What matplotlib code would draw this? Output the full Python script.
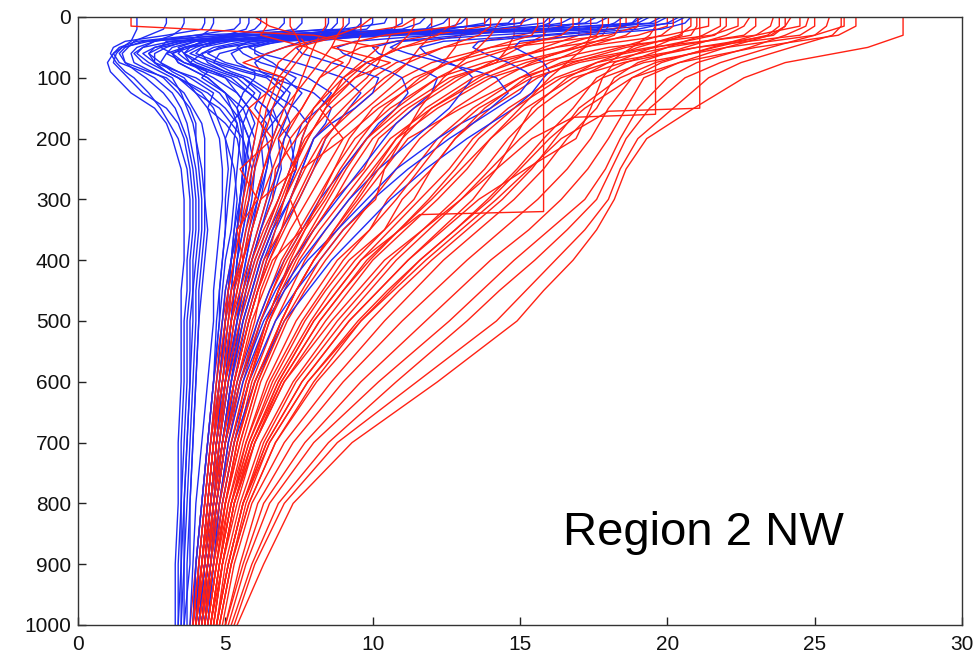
import matplotlib
matplotlib.use("Agg")
import matplotlib.pyplot as plt

plt.rcParams['font.family'] = ['Liberation Sans', 'DejaVu Sans']

# depth levels (m)
red_depths = [0, 15, 30, 50, 75, 100, 150, 200, 250, 300, 350, 400, 450, 500, 600, 700, 800, 900, 1000]
blue_depths = [0, 10, 20, 30, 40, 50, 60, 75, 90, 100, 125, 150, 175, 200, 250, 300, 350, 400, 450,
               500, 600, 700, 800, 900, 1000]

red_profiles = [
    [28.0, 28.0, 28.0, 26.8, 24.0, 22.6, 20.9, 19.3, 18.6, 18.2, 17.6, 16.8, 15.8, 14.9, 12.2, 9.3, 7.3, 6.3, 5.4],
    [25.9, 25.9, 25.6, 24.2, 22.5, 21.4, 20.2, 19.0, 18.4, 18.0, 17.2, 16.2, 15.2, 14.2, 11.5, 8.8, 7.0, 6.0, 5.3],
    [25.5, 25.4, 25.0, 23.5, 21.8, 20.6, 19.4, 18.6, 18.1, 17.6, 16.6, 15.5, 14.3, 13.2, 10.8, 8.5, 6.8, 5.9, 5.2],
    [24.8, 24.7, 24.0, 22.8, 21.0, 20.0, 19.0, 18.4, 17.9, 17.2, 16.0, 14.8, 13.7, 12.6, 10.2, 8.0, 6.5, 5.7, 5.1],
    [24.2, 24.0, 23.5, 22.0, 20.4, 19.2, 18.6, 18.0, 17.3, 16.4, 15.3, 14.0, 12.9, 11.8, 9.6, 7.7, 6.3, 5.6, 5.0],
    [23.6, 23.5, 23.0, 21.5, 19.8, 18.8, 18.0, 17.4, 16.6, 15.6, 14.4, 13.2, 12.1, 11.0, 9.0, 7.3, 6.1, 5.5, 5.0],
    [22.8, 22.6, 22.0, 20.6, 19.0, 18.2, 17.6, 16.6, 15.8, 14.8, 13.6, 12.4, 11.4, 10.4, 8.6, 7.0, 5.9, 5.3, 4.9],
    [21.8, 21.8, 21.2, 20.0, 18.6, 17.6, 16.8, 15.8, 14.9, 13.9, 12.8, 11.6, 10.6, 9.6, 8.0, 6.7, 5.8, 5.2, 4.8],
    [20.5, 20.5, 20.5, 19.5, 18.2, 17.8, 17.4, 16.9, 15.2, 13.6, 12.4, 11.2, 10.2, 9.2, 7.6, 6.4, 5.6, 5.1, 4.7],
    [19.6, 19.6, 19.4, 18.8, 18.0, 17.0, 15.6, 14.6, 13.8, 12.8, 11.7, 10.6, 9.7, 8.8, 7.3, 6.2, 5.5, 5.0, 4.7],
    [25.0, 25.0, 24.5, 21.0, 18.5, 16.8, 15.2, 14.0, 13.2, 12.2, 11.1, 10.0, 9.2, 8.4, 7.0, 6.0, 5.4, 4.9, 4.6],
    [23.0, 23.0, 22.6, 20.0, 17.6, 16.2, 14.6, 13.4, 12.6, 11.6, 10.6, 9.6, 8.8, 8.0, 6.8, 5.9, 5.3, 4.9, 4.6],
    [21.0, 21.0, 20.8, 18.6, 16.8, 15.6, 14.0, 12.8, 12.0, 11.0, 10.4, 9.2, 8.4, 7.7, 6.6, 5.8, 5.2, 4.8, 4.5],
    [19.0, 19.0, 18.6, 17.2, 16.0, 15.0, 13.4, 12.2, 11.4, 10.5, 9.9, 8.8, 8.1, 7.4, 6.4, 5.7, 5.1, 4.8, 4.5],
    [18.0, 18.0, 17.8, 16.8, 15.4, 14.4, 12.8, 11.6, 10.8, 10.0, 9.2, 8.4, 7.7, 7.1, 6.2, 5.6, 5.1, 4.7, 4.4],
    [24.5, 24.5, 23.0, 19.4, 16.6, 15.0, 13.0, 11.2, 10.4, 9.6, 8.8, 8.0, 7.4, 6.9, 6.1, 5.5, 5.0, 4.7, 4.4],
    [22.4, 22.4, 21.5, 18.0, 15.6, 14.0, 12.2, 10.8, 10.0, 9.2, 8.4, 7.7, 7.2, 6.7, 5.9, 5.4, 5.0, 4.7, 4.4],
    [17.0, 17.0, 17.0, 15.8, 14.6, 13.6, 12.0, 10.6, 9.8, 9.0, 8.2, 7.5, 7.0, 6.5, 5.8, 5.3, 4.9, 4.6, 4.3],
    [16.0, 16.0, 15.8, 15.0, 14.0, 13.0, 11.4, 10.2, 9.7, 8.7, 8.0, 7.3, 6.8, 6.4, 5.7, 5.2, 4.8, 4.6, 4.3],
    [14.8, 14.8, 14.8, 14.6, 14.2, 12.6, 11.0, 9.8, 9.0, 8.4, 7.7, 7.1, 6.6, 6.2, 5.6, 5.1, 4.8, 4.5, 4.3],
    [20.0, 20.0, 19.0, 16.2, 13.8, 12.2, 10.6, 9.4, 8.7, 8.1, 7.5, 6.9, 6.5, 6.1, 5.5, 5.1, 4.8, 4.5, 4.2],
    [13.2, 13.2, 13.0, 12.8, 12.4, 11.8, 10.2, 9.0, 8.4, 7.8, 7.2, 6.7, 6.3, 5.9, 5.4, 5.0, 4.7, 4.5, 4.2],
    [18.6, 18.6, 17.0, 14.0, 12.0, 11.0, 9.8, 8.6, 8.0, 7.5, 7.0, 6.5, 6.1, 5.8, 5.3, 4.9, 4.7, 4.4, 4.2],
    [12.0, 12.0, 12.0, 11.6, 11.2, 10.6, 9.4, 8.3, 7.7, 7.2, 6.9, 6.3, 6.0, 5.7, 5.2, 4.9, 4.6, 4.4, 4.1],
    [16.4, 16.4, 15.0, 12.4, 10.8, 10.0, 9.0, 8.0, 7.5, 7.0, 6.6, 6.2, 5.9, 5.6, 5.1, 4.8, 4.6, 4.3, 4.1],
    [10.8, 10.8, 10.6, 10.4, 10.2, 9.8, 8.6, 7.7, 7.2, 6.8, 6.4, 6.0, 5.7, 5.4, 5.0, 4.8, 4.5, 4.3, 4.1],
    [15.2, 15.0, 13.0, 11.0, 9.8, 9.2, 8.2, 7.4, 6.7, 6.6, 6.2, 5.9, 5.6, 5.3, 5.0, 4.7, 4.5, 4.3, 4.0],
    [9.6, 9.6, 9.6, 9.4, 9.2, 8.8, 8.0, 7.2, 6.8, 6.4, 6.1, 5.8, 5.5, 5.2, 4.9, 4.7, 4.5, 4.2, 4.0],
    [13.8, 13.8, 12.0, 9.6, 8.6, 8.2, 7.6, 7.0, 6.6, 6.2, 5.9, 5.6, 5.3, 5.1, 4.8, 4.6, 4.4, 4.2, 4.0],
    [8.4, 8.4, 8.2, 8.0, 7.8, 7.6, 7.2, 6.7, 6.3, 6.0, 5.7, 5.5, 5.2, 5.0, 4.8, 4.6, 4.4, 4.2, 3.9],
    [6.0, 6.5, 7.5, 7.8, 7.4, 7.0, 6.6, 6.3, 6.0, 5.8, 5.5, 5.3, 5.1, 4.9, 4.7, 4.5, 4.3, 4.1, 3.9],
    [11.5, 11.0, 9.0, 7.4, 6.8, 6.6, 6.2, 6.0, 5.8, 5.6, 5.4, 5.2, 5.0, 4.9, 4.6, 4.4, 4.2, 4.0, 3.8],
    [19.0, 19.0, 18.0, 14.6, 12.6, 11.4, 10.0, 9.2, 8.7, 8.2, 7.7, 7.2, 6.8, 6.4, 5.8, 5.3, 4.9, 4.6, 4.3],
    [26.0, 26.0, 25.0, 22.0, 19.2, 17.8, 16.2, 15.0, 14.0, 13.0, 11.9, 10.8, 9.9, 9.0, 7.4, 6.3, 5.6, 5.1, 4.7],
    [17.4, 17.4, 17.4, 17.2, 16.6, 16.0, 15.0, 14.0, 13.0, 12.0, 10.9, 9.8, 9.0, 8.2, 6.9, 6.0, 5.3, 4.9, 4.5],
    [14.4, 14.2, 14.0, 13.6, 13.0, 12.4, 11.6, 11.0, 10.4, 10.1, 9.0, 8.2, 7.6, 7.0, 6.1, 5.5, 5.0, 4.7, 4.4],
    [21.4, 21.4, 20.0, 17.0, 14.8, 13.4, 11.8, 10.8, 10.1, 9.4, 8.7, 8.0, 7.4, 6.9, 6.0, 5.4, 5.0, 4.6, 4.3],
    [12.6, 12.6, 12.2, 11.0, 9.8, 9.0, 8.0, 7.6, 7.3, 7.0, 6.7, 6.4, 6.1, 5.8, 5.3, 4.9, 4.6, 4.4, 4.2],
    [23.8, 23.8, 23.4, 21.6, 19.6, 18.4, 17.0, 16.2, 15.4, 14.4, 13.2, 12.0, 10.9, 9.9, 8.1, 6.7, 5.8, 5.2, 4.8],
    [20.8, 20.8, 20.4, 19.0, 17.6, 16.6, 15.4, 14.8, 14.2, 13.4, 12.3, 11.2, 10.2, 9.2, 7.6, 6.4, 5.6, 5.1, 4.7],
    [6.4, 6.4, 6.2, 7.8, 9.0, 8.2, 7.6, 6.8, 7.4, 6.2, 5.9, 5.6, 5.4, 5.2, 4.9, 4.6, 4.4, 4.2, 4.0],
    [10.0, 9.6, 8.8, 7.0, 5.6, 7.0, 5.8, 6.6, 5.5, 6.1, 5.4, 5.6, 5.2, 5.1, 4.8, 4.5, 4.3, 4.1, 3.9],
    [13.0, 12.8, 10.4, 8.6, 10.6, 9.4, 8.2, 9.0, 7.6, 7.2, 7.6, 6.6, 6.2, 6.0, 5.4, 5.0, 4.7, 4.4, 4.1],
    [1.8, 1.8, 8.0, 10.2, 9.6, 9.0, 8.4, 7.8, 7.2, 6.8, 6.3, 5.9, 5.6, 5.3, 5.0, 4.7, 4.5, 4.3, 4.0],
    [22.0, 22.0, 21.6, 19.6, 17.0, 15.4, 13.6, 12.4, 11.6, 10.8, 9.9, 9.0, 8.3, 7.6, 6.5, 5.7, 5.2, 4.8, 4.5],
    [18.4, 18.4, 18.2, 17.0, 15.2, 13.8, 12.0, 11.0, 10.2, 9.5, 8.7, 8.0, 7.4, 6.9, 6.0, 5.4, 5.0, 4.7, 4.4],
    [15.6, 15.6, 15.4, 14.0, 12.6, 11.6, 10.4, 9.6, 8.9, 8.3, 7.6, 7.0, 6.6, 6.2, 5.5, 5.0, 4.7, 4.5, 4.2],
    [24.0, 24.0, 23.6, 21.0, 18.0, 16.4, 14.8, 13.6, 12.8, 11.9, 10.9, 9.9, 9.0, 8.2, 6.9, 5.9, 5.3, 4.9, 4.6],
    [11.4, 11.4, 11.2, 10.8, 10.0, 9.4, 8.4, 7.8, 7.3, 6.9, 6.5, 6.1, 5.8, 5.5, 5.0, 4.7, 4.5, 4.3, 4.0],
    [20.2, 20.2, 19.8, 18.4, 16.4, 15.2, 13.8, 12.8, 12.0, 11.4, 10.4, 9.4, 8.6, 7.9, 6.7, 5.8, 5.2, 4.8, 4.5],
    [17.8, 17.8, 17.6, 16.2, 14.2, 12.8, 11.2, 10.0, 9.3, 8.7, 8.0, 7.4, 6.9, 6.5, 5.8, 5.3, 4.9, 4.6, 4.3],
    [9.0, 9.0, 8.8, 8.6, 8.2, 7.8, 7.0, 6.6, 6.3, 6.0, 5.8, 5.6, 5.4, 5.2, 4.9, 4.6, 4.4, 4.2, 4.0],
    [14.0, 14.0, 13.6, 12.4, 11.2, 10.4, 9.2, 8.4, 7.9, 7.4, 6.9, 6.5, 6.1, 5.8, 5.3, 4.9, 4.6, 4.4, 4.1],
    [26.4, 26.4, 25.8, 23.0, 20.4, 18.8, 17.2, 16.0, 15.0, 14.0, 12.8, 11.6, 10.5, 9.5, 7.8, 6.5, 5.7, 5.2, 4.8],
    [16.8, 16.8, 16.4, 14.8, 13.2, 12.2, 10.8, 9.8, 9.1, 8.5, 7.9, 7.3, 6.8, 6.4, 5.7, 5.2, 4.8, 4.5, 4.3],
    [7.2, 7.2, 7.4, 7.6, 7.2, 6.8, 6.4, 6.2, 5.9, 5.7, 5.5, 5.3, 5.1, 5.0, 4.7, 4.5, 4.3, 4.1, 3.9],
]

# red profiles with step artifacts (own depth lists)
red_step_depths = [
    [0, 320, 325, 400, 500, 600, 700, 800, 900, 1000],
    [0, 150, 155, 200, 300, 400, 500, 600, 700, 800, 900, 1000],
    [0, 160, 165, 200, 300, 400, 500, 600, 700, 800, 900, 1000],
]
red_step_values = [
    [15.8, 15.8, 11.6, 9.6, 8.0, 6.8, 5.9, 5.2, 4.8, 4.5],
    [21.1, 21.1, 18.0, 16.4, 14.2, 11.8, 9.6, 7.8, 6.5, 5.6, 5.1, 4.7],
    [19.6, 19.6, 16.8, 15.4, 13.0, 10.4, 8.6, 7.0, 6.0, 5.3, 4.9, 4.6],
]

blue_profiles = [
    [2.0, 2.0, 2.0, 1.9, 1.8, 1.5, 1.2, 1.0, 1.1, 1.3, 1.8, 2.6, 3.0, 3.2, 3.5, 3.6, 3.6, 3.6, 3.5, 3.5, 3.5, 3.4, 3.4, 3.3, 3.3],
    [4.3, 4.3, 4.2, 3.0, 1.6, 1.2, 1.1, 1.3, 1.6, 1.9, 2.4, 2.8, 3.1, 3.4, 3.7, 3.8, 3.8, 3.7, 3.7, 3.6, 3.6, 3.5, 3.5, 3.4, 3.4],
    [7.0, 7.0, 6.8, 5.0, 2.4, 1.5, 1.3, 1.2, 1.5, 1.7, 2.2, 3.0, 3.4, 3.6, 3.8, 3.9, 3.9, 3.8, 3.8, 3.7, 3.7, 3.6, 3.5, 3.5, 3.4],
    [3.0, 3.0, 2.9, 2.4, 1.9, 1.7, 1.5, 1.6, 2.0, 2.3, 2.9, 3.3, 3.5, 3.7, 3.9, 4.0, 4.0, 3.9, 3.9, 3.8, 3.8, 3.7, 3.6, 3.5, 3.5],
    [10.5, 10.4, 9.0, 4.0, 2.0, 1.4, 1.2, 1.4, 2.2, 2.6, 3.2, 3.5, 3.7, 3.8, 4.0, 4.1, 4.1, 4.0, 3.9, 3.9, 3.8, 3.7, 3.6, 3.6, 3.5],
    [5.5, 5.5, 5.3, 4.0, 2.6, 2.0, 1.8, 1.9, 2.5, 2.9, 3.4, 3.8, 4.0, 4.0, 4.1, 4.2, 4.2, 4.1, 4.0, 4.0, 3.9, 3.8, 3.7, 3.6, 3.6],
    [15.5, 15.0, 12.0, 5.0, 2.2, 1.6, 1.4, 1.6, 2.4, 3.0, 3.6, 3.9, 4.2, 4.3, 4.3, 4.3, 4.3, 4.2, 4.1, 4.1, 4.0, 3.9, 3.8, 3.7, 3.7],
    [8.5, 8.5, 8.4, 6.0, 3.2, 2.2, 1.9, 2.2, 2.8, 3.2, 3.5, 3.7, 3.9, 4.0, 4.2, 4.3, 4.4, 4.3, 4.2, 4.1, 4.0, 3.9, 3.8, 3.8, 3.6],
    [12.0, 12.0, 11.8, 8.0, 3.5, 2.6, 2.4, 2.8, 3.4, 3.8, 4.6, 4.4, 5.0, 5.4, 5.6, 5.5, 5.4, 5.3, 5.2, 5.1, 4.9, 4.6, 4.4, 4.2, 4.0],
    [18.0, 17.6, 14.0, 6.0, 3.0, 2.8, 3.2, 3.6, 4.4, 4.2, 5.0, 5.6, 5.2, 5.6, 5.9, 5.8, 5.6, 5.4, 5.3, 5.2, 5.0, 4.7, 4.5, 4.3, 4.1],
    [6.2, 6.2, 6.0, 5.4, 4.4, 3.6, 3.0, 2.8, 3.2, 3.6, 4.0, 4.8, 5.2, 5.0, 5.3, 5.4, 5.3, 5.2, 5.1, 5.0, 4.8, 4.6, 4.4, 4.2, 4.0],
    [20.0, 19.6, 17.0, 9.0, 4.0, 3.4, 3.6, 4.2, 5.0, 5.6, 6.2, 6.0, 6.4, 6.2, 6.3, 6.1, 5.9, 5.7, 5.5, 5.4, 5.1, 4.8, 4.6, 4.4, 4.2],
    [14.0, 13.8, 12.6, 7.0, 4.6, 4.0, 3.6, 3.8, 4.2, 4.6, 5.4, 5.8, 5.6, 5.8, 6.0, 5.9, 5.7, 5.5, 5.3, 5.2, 5.0, 4.7, 4.5, 4.3, 4.1],
    [9.2, 9.2, 9.0, 7.2, 5.2, 4.2, 3.8, 4.6, 5.6, 6.4, 7.0, 6.6, 6.2, 6.4, 6.6, 6.4, 6.1, 5.8, 5.6, 5.4, 5.1, 4.8, 4.6, 4.4, 4.2],
    [16.8, 16.4, 15.0, 10.0, 6.0, 4.8, 4.4, 5.0, 6.2, 7.0, 7.6, 7.2, 7.0, 6.8, 6.9, 6.6, 6.2, 5.9, 5.7, 5.5, 5.2, 4.9, 4.6, 4.4, 4.2],
    [4.6, 4.6, 4.5, 4.2, 3.6, 3.0, 2.6, 2.6, 3.0, 3.4, 4.4, 5.0, 5.4, 5.3, 5.2, 5.1, 5.0, 4.9, 4.8, 4.8, 4.6, 4.4, 4.2, 4.0, 3.9],
    [11.0, 11.0, 10.6, 9.0, 6.4, 5.0, 4.2, 3.8, 4.4, 5.0, 5.8, 6.4, 6.8, 7.2, 7.4, 7.0, 6.6, 6.2, 5.9, 5.6, 5.2, 4.9, 4.6, 4.4, 4.2],
    [19.2, 18.8, 16.0, 8.0, 4.8, 4.2, 4.0, 4.8, 5.8, 6.6, 8.0, 8.6, 8.4, 8.0, 7.6, 7.2, 6.7, 6.3, 6.0, 5.7, 5.3, 5.0, 4.7, 4.5, 4.3],
    [7.6, 7.6, 7.4, 6.0, 3.8, 2.8, 2.4, 2.6, 3.0, 3.4, 4.2, 4.6, 4.8, 5.0, 5.1, 5.0, 5.0, 4.9, 4.8, 4.7, 4.6, 4.4, 4.2, 4.0, 3.9],
    [13.2, 13.0, 12.4, 10.4, 7.0, 5.6, 4.8, 4.6, 5.2, 5.8, 6.6, 7.4, 7.8, 7.6, 7.4, 7.0, 6.5, 6.1, 5.8, 5.5, 5.2, 4.9, 4.6, 4.4, 4.2],
    [17.6, 17.2, 14.8, 8.4, 5.8, 5.4, 5.6, 6.2, 7.2, 7.8, 8.6, 8.2, 7.6, 7.4, 7.2, 6.8, 6.4, 6.0, 5.7, 5.5, 5.1, 4.8, 4.6, 4.4, 4.2],
    [10.0, 10.0, 9.8, 7.6, 4.8, 3.8, 3.2, 3.4, 4.0, 4.4, 5.0, 5.2, 5.6, 5.8, 5.7, 5.6, 5.4, 5.3, 5.2, 5.0, 4.8, 4.6, 4.4, 4.2, 4.0],
    [20.6, 20.2, 18.0, 11.0, 6.6, 5.8, 6.2, 7.4, 8.4, 9.0, 9.6, 9.2, 8.8, 8.4, 8.0, 7.5, 6.9, 6.4, 6.1, 5.8, 5.3, 5.0, 4.7, 4.5, 4.3],
    [5.8, 5.8, 5.7, 5.0, 4.2, 3.8, 3.6, 4.0, 4.8, 5.4, 6.0, 5.6, 5.8, 6.0, 5.8, 5.6, 5.5, 5.4, 5.3, 5.2, 5.0, 4.7, 4.5, 4.3, 4.1],
    [15.2, 15.0, 13.6, 9.6, 6.8, 6.0, 6.0, 6.6, 7.0, 7.4, 7.0, 6.6, 6.8, 6.6, 6.4, 6.2, 5.9, 5.7, 5.5, 5.3, 5.0, 4.8, 4.5, 4.3, 4.1],
    [8.8, 8.8, 8.6, 7.8, 6.4, 5.6, 5.2, 5.4, 6.0, 6.0, 5.6, 5.4, 5.5, 5.6, 5.7, 5.5, 5.4, 5.2, 5.1, 5.0, 4.8, 4.6, 4.4, 4.2, 4.0],
    [19.8, 19.4, 16.6, 10.0, 8.0, 7.4, 7.6, 8.6, 9.6, 10.2, 10.0, 9.4, 8.6, 8.0, 7.6, 7.2, 6.6, 6.2, 5.9, 5.6, 5.2, 4.9, 4.6, 4.4, 4.2],
    [12.6, 12.4, 11.8, 9.2, 7.6, 7.0, 6.4, 6.0, 6.2, 6.6, 7.2, 7.0, 6.6, 6.2, 6.0, 5.8, 5.6, 5.4, 5.3, 5.2, 4.9, 4.7, 4.5, 4.3, 4.1],
    [18.5, 18.2, 17.6, 14.0, 11.0, 10.6, 11.2, 12.4, 13.6, 14.2, 14.6, 14.0, 13.0, 12.2, 10.8, 9.8, 8.8, 7.8, 7.0, 6.4, 5.6, 5.1, 4.8, 4.5, 4.3],
    [20.4, 20.0, 19.0, 16.0, 13.6, 13.4, 13.8, 14.6, 15.2, 15.4, 15.0, 14.2, 13.4, 12.6, 11.2, 10.0, 9.0, 8.2, 7.4, 6.7, 5.8, 5.2, 4.8, 4.6, 4.4],
    [16.2, 16.0, 15.4, 13.0, 10.8, 10.0, 10.2, 11.0, 11.8, 12.2, 12.0, 11.4, 10.8, 10.4, 9.6, 8.8, 8.0, 7.3, 6.7, 6.2, 5.5, 5.0, 4.7, 4.5, 4.3],
    [19.0, 18.8, 18.2, 15.6, 12.4, 11.6, 11.8, 12.6, 13.2, 13.4, 13.0, 12.6, 12.0, 11.4, 10.2, 9.2, 8.4, 7.6, 6.9, 6.3, 5.5, 5.0, 4.7, 4.5, 4.3],
    [17.2, 17.0, 16.0, 12.0, 9.4, 8.8, 9.0, 9.8, 10.6, 11.0, 11.2, 10.8, 10.2, 9.8, 9.0, 8.2, 7.6, 7.0, 6.5, 6.1, 5.4, 5.0, 4.7, 4.4, 4.2],
    [20.8, 20.6, 19.8, 17.0, 15.0, 14.8, 15.2, 15.8, 16.0, 15.8, 15.4, 14.8, 14.0, 13.2, 11.8, 10.6, 9.6, 8.6, 7.8, 7.0, 6.0, 5.3, 4.9, 4.6, 4.4],
    [14.8, 14.6, 12.0, 5.4, 3.4, 2.6, 2.2, 2.6, 3.4, 4.0, 4.8, 5.2, 5.4, 5.5, 5.4, 5.3, 5.2, 5.0, 4.9, 4.8, 4.6, 4.4, 4.2, 4.0, 3.9],
    [9.6, 9.6, 9.4, 6.8, 4.0, 3.2, 3.0, 3.6, 4.6, 5.0, 5.4, 5.8, 6.0, 5.8, 5.6, 5.5, 5.3, 5.2, 5.0, 4.9, 4.7, 4.5, 4.3, 4.1, 4.0],
    [19.4, 19.0, 15.4, 7.2, 4.4, 3.6, 3.4, 3.8, 4.6, 5.2, 5.8, 6.4, 6.6, 6.6, 6.4, 6.1, 5.8, 5.6, 5.4, 5.2, 4.9, 4.7, 4.5, 4.3, 4.1],
    [3.6, 3.6, 3.5, 3.2, 2.6, 2.2, 2.0, 2.4, 3.0, 3.4, 4.0, 4.4, 4.6, 4.8, 4.9, 4.9, 4.8, 4.7, 4.6, 4.6, 4.4, 4.2, 4.0, 3.9, 3.8],
    [16.0, 15.8, 14.0, 9.0, 5.6, 4.6, 4.2, 4.4, 5.0, 5.6, 6.4, 7.0, 7.2, 7.0, 6.8, 6.5, 6.2, 5.9, 5.6, 5.4, 5.0, 4.7, 4.5, 4.3, 4.1],
    [11.8, 11.6, 11.0, 8.0, 5.0, 3.6, 3.2, 3.4, 4.0, 4.4, 5.0, 5.4, 5.6, 5.6, 5.6, 5.5, 5.4, 5.2, 5.1, 5.0, 4.8, 4.5, 4.3, 4.1, 4.0],
]

x_ticks = [0, 5, 10, 15, 20, 25, 30]
y_ticks = [0, 100, 200, 300, 400, 500, 600, 700, 800, 900, 1000]
label_text = "Region 2 NW"

RED = (1.0, 0.13, 0.08)
BLUE = (0.12, 0.17, 0.96)
LW = 1.0

fig = plt.figure(figsize=(9.76, 6.55), dpi=100)
ax = fig.add_axes([78 / 976, 1 - 625 / 655, (962 - 78) / 976, (625 - 17) / 655])

# profiles drawn interleaved (blue, red, blue, red, ...)
n = max(len(blue_profiles), len(red_profiles))
for i in range(n):
    if i < len(blue_profiles):
        ax.plot(blue_profiles[i], blue_depths, color=BLUE, linewidth=LW)
    if i < len(red_profiles):
        ax.plot(red_profiles[i], red_depths, color=RED, linewidth=LW)
for d, v in zip(red_step_depths, red_step_values):
    ax.plot(v, d, color=RED, linewidth=LW)

ax.set_xlim(0, 30)
ax.set_ylim(1000, 0)
ax.set_xticks(x_ticks)
ax.set_yticks(y_ticks)
ax.tick_params(direction='in', length=6, width=1, labelsize=15, top=False, right=False,
               color='#222222', labelcolor='#111111')
ax.tick_params(axis='y', pad=5)
ax.tick_params(axis='x', pad=7)
for s in ax.spines.values():
    s.set_color('#333333')
    s.set_linewidth(1.0)

ax.text(16.46, 868, label_text, fontsize=34, ha='left', va='baseline', color='black')

fig.savefig("out.png", dpi=100)
